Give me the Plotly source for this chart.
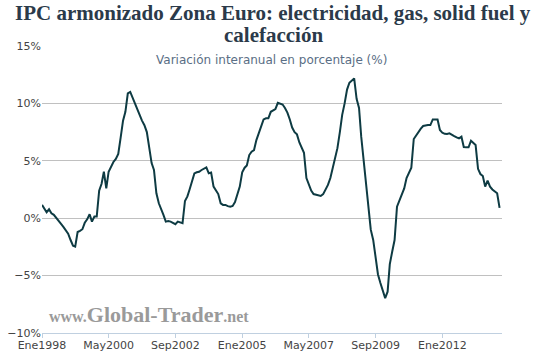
import pandas as pd
import plotly.graph_objects as go

# ---- data (monthly, Jan 1998 - Jan 2014) ----
start_month = "1998-01-01"
values = [
    1.16, 0.87, 0.52, 0.78, 0.43, 0.29, 0.0, -0.3, -0.5, -0.75, -1.05, -1.35,
    -1.9, -2.4, -2.47, -1.2, -1.1, -0.96, -0.4, -0.1, 0.35, -0.3, 0.14, 0.14,
    2.4, 3.0, 4.05, 2.6, 4.05, 4.5, 4.9, 5.16, 5.6, 7.0, 8.5, 9.27,
    10.87, 11.0, 10.5, 10.0, 9.4, 9.0, 8.5, 8.1, 7.5, 6.3, 4.8, 4.2,
    2.17, 1.3, 0.87, 0.29, -0.3, -0.25, -0.3, -0.38, -0.52, -0.3, -0.38, -0.43,
    1.5, 1.9, 2.5, 3.3, 3.9, 4.0, 4.05, 4.2, 4.3, 4.43, 3.91, 3.97,
    2.75, 2.45, 2.1, 1.3, 1.16, 1.16, 1.05, 1.01, 1.07, 1.4, 2.2, 2.75,
    4.0, 4.4, 4.6, 5.5, 5.8, 5.94, 6.8, 7.4, 8.0, 8.6, 8.7, 8.7,
    9.27, 9.42, 9.5, 10.05, 10.0, 9.9, 9.6, 9.2, 8.6, 7.9, 7.5, 7.3,
    6.6, 6.2, 5.7, 3.5, 3.0, 2.4, 2.1, 2.03, 1.98, 1.94, 2.1, 2.5,
    2.9, 3.5, 4.3, 5.4, 6.1, 7.5, 9.0, 10.0, 11.2, 11.8, 12.0, 12.17,
    10.4, 9.6, 7.1, 5.07, 3.6, 1.0, -1.0, -1.89, -3.3, -4.9, -5.65, -6.3,
    -6.96, -6.4, -4.0, -2.9, -1.9, 1.0, 1.5, 2.17, 2.6, 3.5, 3.9, 4.4,
    6.9, 7.24, 7.5, 7.8, 8.03, 8.1, 8.11, 8.11, 8.6, 8.6, 8.6, 7.68,
    7.44, 7.35, 7.33, 7.39, 7.3, 7.15, 7.04, 6.96, 7.1, 6.2, 6.17, 6.17,
    6.75, 6.5, 6.37, 4.3, 3.85, 3.68, 2.75, 3.27, 2.75, 2.5, 2.3, 2.17,
    0.9,
]
dates = pd.date_range(start_month, periods=len(values), freq="MS")

x_tick_vals = ["1998-01-01", "2000-05-01", "2002-09-01", "2005-01-01",
               "2007-05-01", "2009-09-01", "2012-01-01"]
x_tick_text = ["Ene1998", "May2000", "Sep2002", "Ene2005",
               "May2007", "Sep2009", "Ene2012"]
y_tick_vals = [-10, -5, 0, 5, 10, 15]
y_tick_text = ["\u221210%", "\u22125%", "0%", "5%", "10%", "15%"]

title_line1 = "IPC armonizado Zona Euro: electricidad, gas, solid fuel y"
title_line2 = "calefacción"
subtitle_text = "Variación interanual en porcentaje (%)"

# plot area geometry (pixels)
L, R, T, B = 42, 39, 46, 24
PH = 357 - T - B
PW = 541 - L - R


def py(pix_y):
    return (357 - B - pix_y) / PH


def px(pix_x):
    return (pix_x - L) / PW


fig = go.Figure()
fig.add_trace(go.Scatter(
    x=dates, y=values, mode="lines",
    line=dict(color="#0e3b43", width=2),
    hoverinfo="skip", showlegend=False,
))

title_font = dict(family="Liberation Serif", size=21, color="#2b3a4a", weight="bold")

fig.update_layout(
    width=541, height=357,
    margin=dict(l=L, r=R, t=T, b=B, autoexpand=False),
    paper_bgcolor="white", plot_bgcolor="white",
    xaxis=dict(
        range=["1998-01-01", "2014-02-01"],
        tickvals=x_tick_vals, ticktext=x_tick_text,
        showgrid=False, showline=True, linecolor="#c0d0e0", linewidth=1,
        ticks="outside", ticklen=4, tickcolor="#c0d0e0",
        ticklabelstandoff=-2,
        tickfont=dict(family="DejaVu Sans", size=11, color="#444444"),
        zeroline=False, automargin=False,
    ),
    yaxis=dict(
        range=[-10, 15],
        tickvals=y_tick_vals, ticktext=y_tick_text,
        showgrid=True, gridcolor="#c0c0c0", gridwidth=1,
        zeroline=False, showline=False, ticks="",
        tickfont=dict(family="DejaVu Sans", size=11, color="#444444"),
        automargin=False,
    ),
    annotations=[
        dict(text=title_line1, xref="paper", yref="paper",
             x=px(273), y=py(13), xanchor="center", yanchor="middle",
             showarrow=False, font=title_font),
        dict(text=title_line2, xref="paper", yref="paper",
             x=px(273), y=py(35), xanchor="center", yanchor="middle",
             showarrow=False, font=title_font),
        dict(
            text=subtitle_text, xref="paper", yref="paper",
            x=px(271), y=py(60), xanchor="center", yanchor="middle",
            showarrow=False,
            font=dict(family="DejaVu Sans", size=12, color="#5a6e85"),
        ),
        dict(
            text="<span style='font-size:16px'>www.</span>Global-Trader<span style='font-size:16px'>.net</span>",
            xref="paper", yref="paper",
            x=px(47), y=py(314),
            xanchor="left", yanchor="middle", showarrow=False,
            font=dict(family="Liberation Serif", size=22, color="#9a9a9a", weight="bold"),
        ),
    ],
)

fig.write_html(
    "out.html",
    config={"displayModeBar": False},
    post_script="document.body.style.margin='0';document.body.style.overflow='hidden';",
)
